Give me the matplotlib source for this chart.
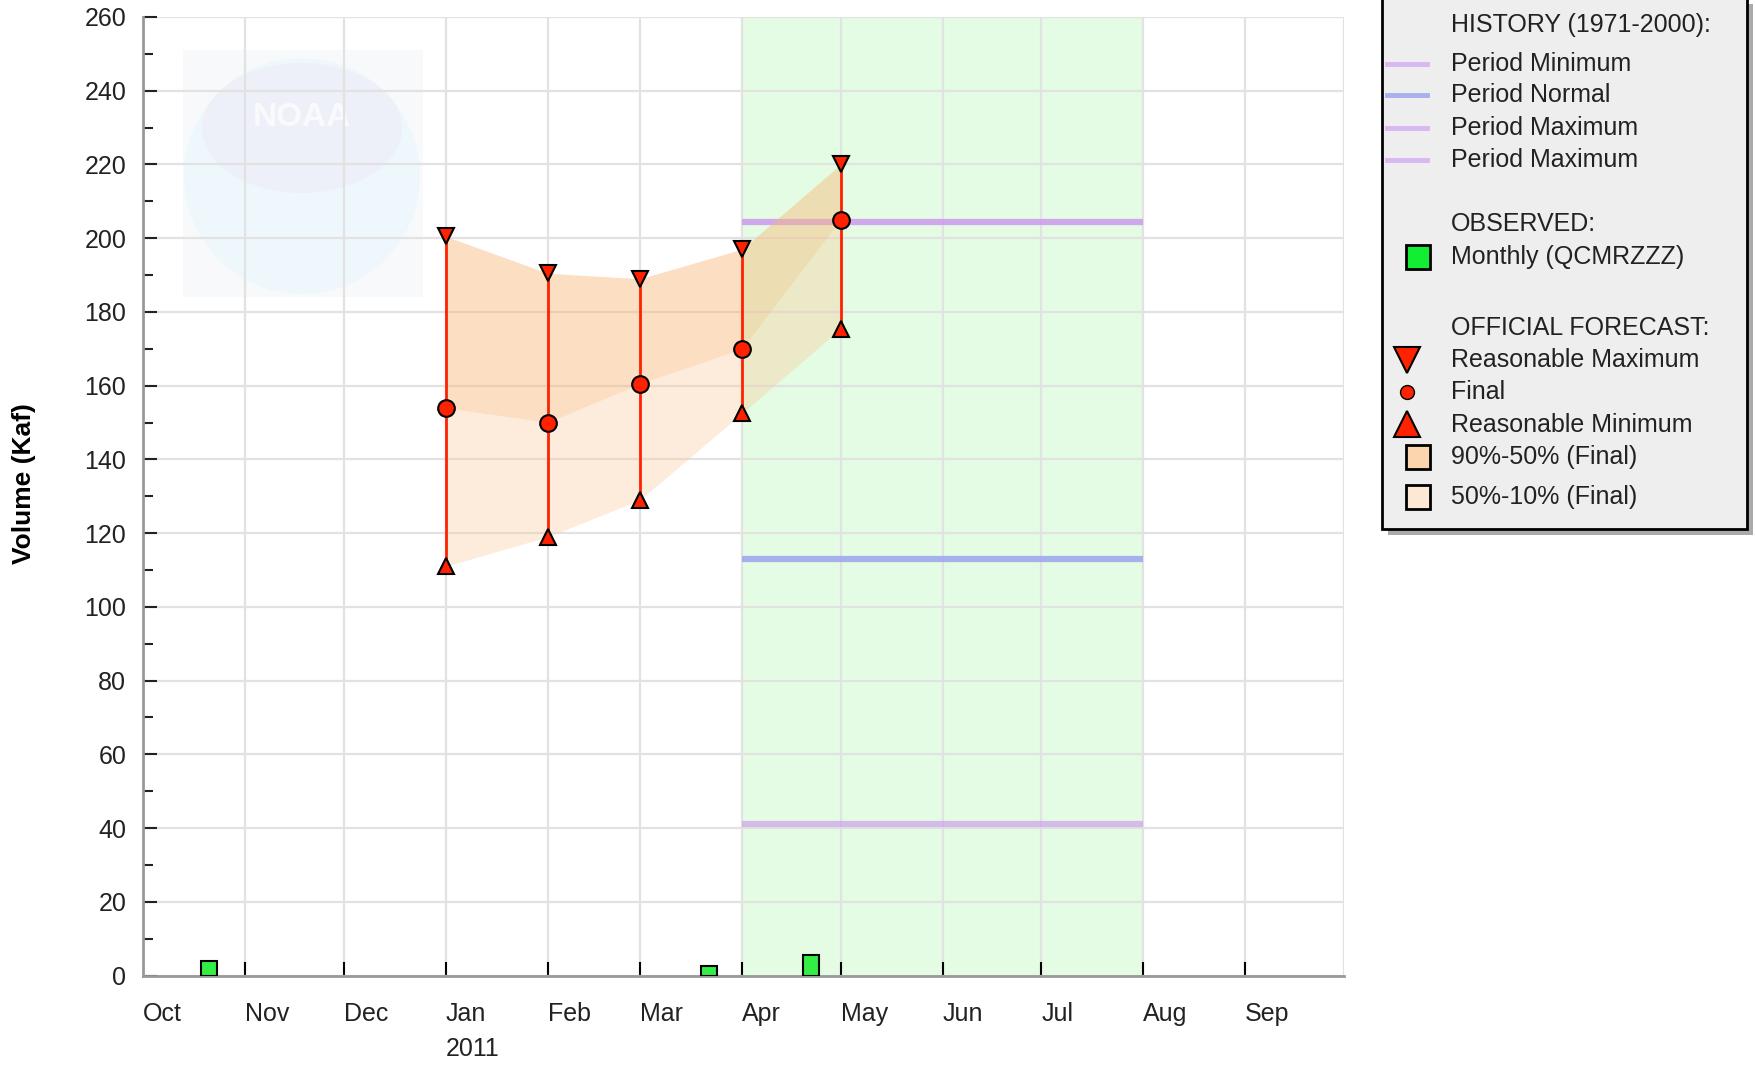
import datetime as dt
import matplotlib
matplotlib.use("Agg")
import matplotlib.pyplot as plt
from matplotlib.patches import Rectangle, Circle, Ellipse
from matplotlib.lines import Line2D

plt.rcParams['font.family'] = ['Liberation Sans', 'DejaVu Sans']

# ---- data ----
month_labels = ['Oct', 'Nov', 'Dec', 'Jan\n2011', 'Feb', 'Mar', 'Apr', 'May', 'Jun', 'Jul', 'Aug', 'Sep']
month_starts = ['2010-10-01', '2010-11-01', '2010-12-01', '2011-01-01', '2011-02-01', '2011-03-01',
                '2011-04-01', '2011-05-01', '2011-06-01', '2011-07-01', '2011-08-01', '2011-09-01',
                '2011-10-01']

fc_dates = ['2011-01-01', '2011-02-01', '2011-03-01', '2011-04-01', '2011-05-01']
fc_max = [200.5, 190.5, 189.0, 197.0, 220.0]
fc_final = [154.0, 150.0, 160.5, 170.0, 205.0]
fc_min = [111.0, 119.0, 129.0, 152.5, 175.5]

obs_dates = ['2010-10-21', '2011-03-22', '2011-04-22']
obs_vals = [4.0, 2.5, 5.5]

hist_start, hist_end = '2011-04-01', '2011-08-01'
hist_min = 41.0
hist_normal = 113.0
hist_max = 204.5


def d(s):
    return dt.datetime.strptime(s, '%Y-%m-%d')


W, H = 1756, 1065
fig = plt.figure(figsize=(W / 100, H / 100), dpi=100)
fig.patch.set_facecolor('white')

ax_rect = [143 / W, (H - 975.5) / H, (1344 - 143) / W, (975.5 - 17) / H]

# faint watermark behind the plot
bg = fig.add_axes(ax_rect, zorder=0)
bg.set_xlim(143, 1344)
bg.set_ylim(975.5, 17)
bg.axis('off')
bg.add_patch(Rectangle((183, 50), 240, 247, facecolor='#F8F9FA', edgecolor='none'))
bg.add_patch(Circle((302, 176), 118, facecolor='#EEF8FC', edgecolor='none'))
bg.add_patch(Ellipse((302, 128), 200, 130, facecolor='#EDF0F8', edgecolor='none'))
bg.text(302, 118, 'NOAA', fontsize=24, fontweight='bold', color='#FAFAFD', ha='center', va='center')

ax = fig.add_axes(ax_rect, zorder=1)
ax.patch.set_visible(False)

xs = [d(s) for s in month_starts]
ax.set_xlim(xs[0], xs[-1])
ax.set_ylim(0, 260)

# growing season shading
ax.axvspan(d(hist_start), d(hist_end), color='#E3FCE3', zorder=0.5, lw=0)

# history lines
hx = [d(hist_start), d(hist_end)]
ax.plot(hx, [hist_max, hist_max], color='#CC99EE', lw=4.5, alpha=0.85, zorder=2, solid_capstyle='butt')
ax.plot(hx, [hist_normal, hist_normal], color='#99A4EE', lw=4.5, alpha=0.85, zorder=2, solid_capstyle='butt')
ax.plot(hx, [hist_min, hist_min], color='#CC99EE', lw=4.5, alpha=0.65, zorder=2, solid_capstyle='butt')

# forecast bands
fx = [d(s) for s in fc_dates]
ax.fill_between(fx, fc_final, fc_max, color='#F9B87A', alpha=0.45, lw=0, zorder=3)
ax.fill_between(fx, fc_min, fc_final, color='#FAC898', alpha=0.35, lw=0, zorder=3)

# forecast whiskers and markers
for x, lo, hi in zip(fx, fc_min, fc_max):
    ax.plot([x, x], [lo, hi], color='#FF2200', lw=2, zorder=4)
ax.plot(fx, fc_max, 'v', color='#FF2200', mec='black', mew=1.5, ms=11, ls='none', zorder=5)
ax.plot(fx, fc_min, '^', color='#FF2200', mec='black', mew=1.5, ms=11, ls='none', zorder=5)
ax.plot(fx, fc_final, 'o', color='#FF2200', mec='black', mew=1.5, ms=12, ls='none', zorder=5)

# observed monthly bars
ax.bar([d(s) for s in obs_dates], obs_vals, width=5, color='#33EE44', edgecolor='black', lw=1.5, zorder=4)

# axes styling
ax.set_xticks(xs[1:-1])
ax.set_xticks(xs[:1], minor=True)
ax.set_xticklabels(month_labels[1:], ha='left', fontsize=18, color='#222222',
                   linespacing=1.6, multialignment='left')
ax.set_xticklabels(month_labels[:1], minor=True, ha='left', fontsize=18, color='#222222')
ax.tick_params(axis='x', which='minor', length=0, pad=19)
ax.set_yticks(range(0, 261, 20))
ax.set_yticks(range(10, 260, 20), minor=True)
ax.tick_params(axis='y', labelsize=18, labelcolor='#222222')
ax.tick_params(axis='x', which='major', direction='in', length=10, width=1.5, color='black', pad=19)
ax.tick_params(axis='y', which='major', direction='in', length=10, width=1.5, color='#222222', pad=12)
ax.tick_params(axis='y', which='minor', direction='in', length=7, width=1.5, color='#222222')
ax.grid(True, which='major', color='#E2E2E2', lw=1.6, zorder=1)
ax.axvline(xs[-1], color='#E2E2E2', lw=1.6, zorder=1)
ax.set_axisbelow(True)
for s in ('top', 'right'):
    ax.spines[s].set_visible(False)
for s in ('left', 'bottom'):
    ax.spines[s].set_color('#999999')
    ax.spines[s].set_linewidth(2)
ax.set_ylabel('Volume (Kaf)', fontsize=19, fontweight='bold')
ax.yaxis.set_label_coords(-0.089, 0.513)

# legend drawn in figure pixel space
lg = fig.add_axes([0, 0, 1, 1], zorder=3)
lg.set_xlim(0, W)
lg.set_ylim(H, 0)
lg.axis('off')
lg.add_patch(Rectangle((1388, 4), 365, 531, facecolor='#AAAAAA', edgecolor='none'))
lg.add_patch(Rectangle((1382, -4), 365, 533, facecolor='#EEEEEE', edgecolor='black', lw=2))

tx = 1451
tkw = dict(fontsize=18, color='#222222', va='center', ha='left')
lg.text(tx, 25, 'HISTORY (1971-2000):', **tkw)
hist_items = [('Period Minimum', '#D8B8F2', 64), ('Period Normal', '#A8B0F0', 95),
              ('Period Maximum', '#D8B8F2', 128), ('Period Maximum', '#D8B8F2', 160)]
for label, col, y in hist_items:
    lg.add_line(Line2D([1387, 1427], [y, y], color=col, lw=3.5))
    lg.text(tx, y, label, **tkw)

lg.text(tx, 224, 'OBSERVED:', **tkw)
lg.add_patch(Rectangle((1406, 245), 24, 24, facecolor='#11EE33', edgecolor='black', lw=2))
lg.text(tx, 257, 'Monthly (QCMRZZZ)', **tkw)

lg.text(tx, 328, 'OFFICIAL FORECAST:', **tkw)
lg.plot([1407], [360], 'v', color='#FF2200', mec='black', mew=1.5, ms=19)
lg.text(tx, 360, 'Reasonable Maximum', **tkw)
lg.plot([1407], [392], 'o', color='#FF2200', mec='black', mew=1, ms=10)
lg.text(tx, 392, 'Final', **tkw)
lg.plot([1407], [424], '^', color='#FF2200', mec='black', mew=1.5, ms=19)
lg.text(tx, 425, 'Reasonable Minimum', **tkw)
lg.add_patch(Rectangle((1406, 445), 24, 24, facecolor='#FCD5AE', edgecolor='black', lw=2))
lg.text(tx, 457, '90%-50% (Final)', **tkw)
lg.add_patch(Rectangle((1406, 485), 24, 24, facecolor='#FCE8D4', edgecolor='black', lw=2))
lg.text(tx, 497, '50%-10% (Final)', **tkw)

fig.savefig('out.png', dpi=100)
